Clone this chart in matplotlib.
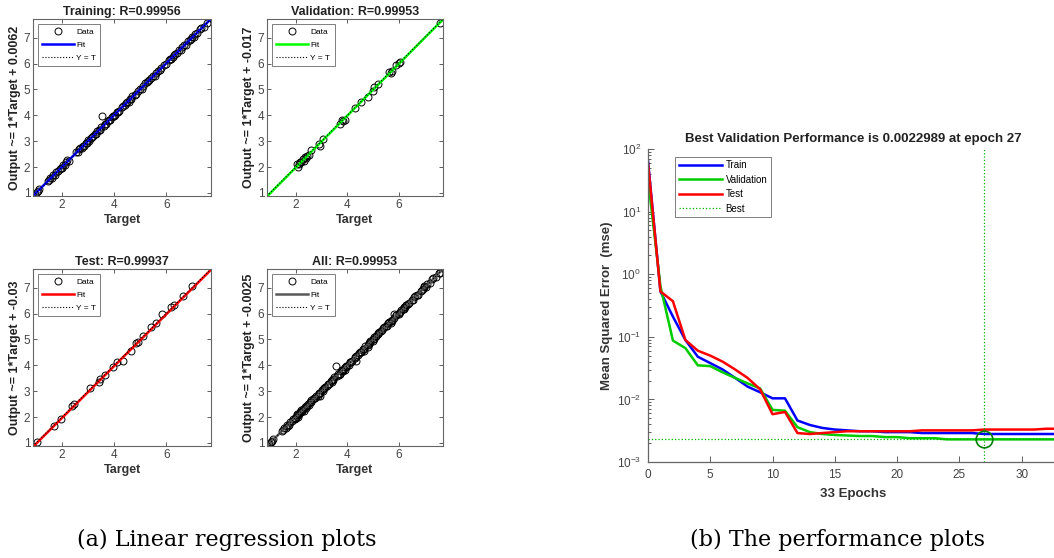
import matplotlib
matplotlib.use('Agg')
import matplotlib.pyplot as plt
import numpy as np

plt.rcParams['font.family'] = ['Liberation Sans', 'DejaVu Sans']

# regression data (targets / network outputs)
train_target = [0.95, 1.02, 1.08, 1.12, 1.45, 1.5, 1.55, 1.6, 1.65, 1.72, 1.78, 1.85, 1.9, 1.95, 2.0,
                2.05, 2.1, 2.15, 2.2, 2.25, 2.55, 2.6, 2.65, 2.7, 2.75, 2.8, 2.85, 2.9, 2.95, 3.0,
                3.05, 3.1, 3.15, 3.2, 3.25, 3.3, 3.35, 3.4, 3.45, 3.5, 3.55, 3.6, 3.65, 3.7, 3.75,
                3.8, 3.85, 3.9, 3.95, 4.0, 4.05, 4.1, 4.15, 4.2, 4.3, 4.35, 4.4, 4.45, 4.5, 4.55,
                4.6, 4.65, 4.7, 4.8, 4.85, 4.9, 5.0, 5.05, 5.1, 5.2, 5.25, 5.3, 5.35, 5.4, 5.5,
                5.55, 5.6, 5.7, 5.75, 5.8, 5.9, 6.0, 6.1, 6.15, 6.2, 6.25, 6.3, 6.35, 6.4, 6.5,
                6.55, 6.6, 6.7, 6.75, 6.85, 6.9, 6.95, 7.0, 7.05, 7.1, 7.2, 7.3, 7.35, 7.45, 7.55, 7.72]
train_output = [0.93, 1.05, 1.06, 1.14, 1.47, 1.48, 1.57, 1.58, 1.68, 1.70, 1.80, 1.83, 1.93, 1.97, 1.98,
                2.07, 2.08, 2.18, 2.27, 2.22, 2.57, 2.58, 2.68, 2.72, 2.73, 2.82, 2.83, 2.93, 2.92, 3.03,
                3.02, 3.13, 3.17, 3.18, 3.28, 3.27, 3.38, 3.42, 3.43, 3.53, 3.97, 3.58, 3.68, 3.67, 3.78,
                3.82, 3.83, 3.93, 3.97, 3.98, 4.02, 4.13, 4.12, 4.18, 4.33, 4.37, 4.38, 4.48, 4.53, 4.52,
                4.62, 4.63, 4.73, 4.77, 4.83, 4.93, 5.02, 5.03, 5.13, 5.23, 5.27, 5.33, 5.37, 5.43, 5.52,
                5.53, 5.62, 5.72, 5.73, 5.82, 5.93, 5.98, 6.13, 6.17, 6.18, 6.27, 6.33, 6.37, 6.42, 6.53,
                6.52, 6.62, 6.73, 6.72, 6.87, 6.92, 6.93, 7.02, 7.03, 7.13, 7.18, 7.33, 7.37, 7.43, 7.57, 7.75]

val_target = [2.05, 2.08, 2.12, 2.18, 2.22, 2.28, 2.3, 2.35, 2.4, 2.45, 2.5, 2.6, 2.9, 2.95, 3.05, 3.72,
              3.8, 3.85, 3.9, 4.3, 4.52, 4.82, 5.0, 5.05, 5.2, 5.62, 5.7, 5.75, 5.9, 6.0, 6.05, 7.6]
val_output = [2.1, 2.02, 2.13, 2.2, 2.18, 2.3, 2.25, 2.38, 2.35, 2.42, 2.48, 2.65, 2.88, 2.8, 3.08, 3.65,
              3.82, 3.78, 3.82, 4.28, 4.5, 4.72, 4.95, 5.08, 5.22, 5.68, 5.65, 5.72, 5.93, 6.02, 6.05, 7.55]

test_target = [1.02, 1.68, 1.97, 2.38, 2.47, 3.08, 3.41, 3.46, 3.66, 3.94, 4.1, 4.32, 4.64, 4.84, 4.9,
               5.12, 5.41, 5.6, 5.82, 6.2, 6.3, 6.65, 7.0]
test_output = [1.04, 1.65, 1.94, 2.41, 2.51, 3.12, 3.37, 3.45, 3.63, 3.95, 4.12, 4.18, 4.56, 4.86, 4.88,
               5.14, 5.46, 5.62, 5.97, 6.27, 6.32, 6.68, 7.06]

# performance curves
epochs = list(range(34))
perf_train = [65, 0.53, 0.21, 0.089, 0.048, 0.038, 0.030, 0.022, 0.016, 0.013, 0.0104, 0.0104,
              0.0046, 0.0039, 0.0035, 0.0033, 0.0032, 0.0031, 0.0031, 0.0030, 0.0030, 0.0030,
              0.0029, 0.0029, 0.0029, 0.0029, 0.0029, 0.0028, 0.0028, 0.0028, 0.0028, 0.0028,
              0.0028, 0.0028]
perf_val = [33, 0.64, 0.087, 0.066, 0.035, 0.034, 0.027, 0.022, 0.018, 0.015, 0.0068, 0.0066,
            0.0036, 0.0030, 0.0028, 0.0027, 0.00265, 0.0026, 0.0026, 0.0025, 0.0025, 0.0024,
            0.0024, 0.0024, 0.0023, 0.0023, 0.0023, 0.0022989, 0.0023, 0.0023, 0.0023, 0.0023,
            0.0023, 0.0023]
perf_test = [60, 0.53, 0.37, 0.089, 0.060, 0.050, 0.040, 0.030, 0.022, 0.0145, 0.0058, 0.0063,
             0.0029, 0.0028, 0.0029, 0.0030, 0.0031, 0.0031, 0.0031, 0.0031, 0.0031, 0.0031,
             0.0032, 0.0032, 0.0032, 0.0032, 0.0032, 0.0033, 0.0033, 0.0033, 0.0033, 0.0033,
             0.0034, 0.0034]
best_epoch = 27
best_perf = 0.0022989

W, H = 1054, 558
fig = plt.figure(figsize=(W / 100, H / 100), dpi=100)


def box(x0, y0, x1, y1):
    return [x0 / W, 1 - y1 / H, (x1 - x0) / W, (y1 - y0) / H]


lims = (0.88, 7.72)
spine_col = '#666666'
tick_col = '#444444'


def regplot(pos, t, o, title, ylab, fitcol, offset):
    ax = fig.add_axes(box(*pos))
    xs = np.array(lims)
    ax.plot(t, o, 'o', mfc='none', mec='black', ms=5, mew=0.7, label='Data')
    ax.plot(xs, xs + offset, '-', color=fitcol, lw=1.8, label='Fit')
    ax.plot(xs, xs, ':', color='black', lw=0.8, label='Y = T')
    ax.set_xlim(lims)
    ax.set_ylim(lims)
    ax.set_xticks([2, 4, 6])
    ax.set_yticks([1, 2, 3, 4, 5, 6, 7])
    ax.tick_params(direction='in', top=True, right=True, length=3, width=0.6,
                   labelsize=8.5, colors=tick_col, pad=2)
    for s in ax.spines.values():
        s.set_color(spine_col)
        s.set_linewidth(0.8)
    ax.set_title(title, fontsize=9, fontweight='bold', pad=3, color='#222222')
    ax.set_xlabel('Target', fontsize=9, fontweight='bold', labelpad=2, color='#333333')
    ax.set_ylabel(ylab, fontsize=9, fontweight='bold', labelpad=2, color='#222222')
    leg = ax.legend(loc='upper left', fontsize=6, frameon=True, fancybox=False,
                    edgecolor='#444444', handlelength=3.8, borderpad=0.5,
                    labelspacing=0.6, handletextpad=0.3, borderaxespad=0.6)
    leg.get_frame().set_linewidth(0.6)
    return ax


regplot((33, 19, 211, 196), train_target, train_output, 'Training: R=0.99956',
        'Output ~= 1*Target + 0.0062', (0, 0, 1), 0.0062)
regplot((267, 19, 443, 196), val_target, val_output, 'Validation: R=0.99953',
        'Output ~= 1*Target + -0.017', (0, 1, 0), -0.017)
regplot((33, 269, 211, 446), test_target, test_output, 'Test: R=0.99937',
        'Output ~= 1*Target + -0.03', (1, 0, 0), -0.03)
regplot((267, 269, 443, 446), train_target + val_target + test_target,
        train_output + val_output + test_output, 'All: R=0.99953',
        'Output ~= 1*Target + -0.0025', (0.35, 0.35, 0.35), -0.0025)

# performance plot
ax = fig.add_axes(box(648, 149, 1059, 462))
ax.semilogy(epochs, perf_train, color=(0, 0, 1), lw=1.8, label='Train')
ax.semilogy(epochs, perf_val, color=(0, 0.8, 0), lw=1.8, label='Validation')
ax.semilogy(epochs, perf_test, color=(1, 0, 0), lw=1.8, label='Test')
ax.axhline(best_perf, color=(0, 0.7, 0), ls=':', lw=0.9, label='Best')
ax.axvline(best_epoch, color=(0, 0.7, 0), ls=':', lw=0.9)
ax.plot([best_epoch], [best_perf], 'o', mfc='none', mec=(0, 0.5, 0), ms=12, mew=1.2)
ax.set_xlim(0, 33)
ax.set_ylim(1e-3, 1e2)
ax.set_xticks([0, 5, 10, 15, 20, 25, 30])
ax.spines['top'].set_visible(False)
ax.spines['right'].set_visible(False)
for s in ('left', 'bottom'):
    ax.spines[s].set_color(spine_col)
    ax.spines[s].set_linewidth(0.9)
ax.tick_params(which='both', direction='in', labelsize=8.5, colors=tick_col, width=0.6)
ax.tick_params(which='major', length=4, pad=5)
ax.tick_params(which='minor', length=2)
ax.set_title('Best Validation Performance is 0.0022989 at epoch 27', fontsize=9.5,
             fontweight='bold', pad=5, color='#222222')
ax.set_xlabel('33 Epochs', fontsize=9.5, fontweight='bold', labelpad=5, color='#333333')
ax.set_ylabel('Mean Squared Error  (mse)', fontsize=9.5, fontweight='bold', labelpad=3,
              color='#333333')
leg = ax.legend(loc='upper left', fontsize=7, frameon=True, fancybox=False,
                edgecolor='#444444', handlelength=4.4, borderpad=0.35,
                labelspacing=0.45, handletextpad=0.4, bbox_to_anchor=(0.055, 0.99))
leg.get_frame().set_linewidth(0.6)

# captions
fig.text(227 / W, 1 - 540 / H, '(a) Linear regression plots', family='DejaVu Serif',
         fontsize=16, ha='center', va='center')
fig.text(838 / W, 1 - 540 / H, '(b) The performance plots', family='DejaVu Serif',
         fontsize=16, ha='center', va='center')

fig.savefig('out.png', dpi=100)
